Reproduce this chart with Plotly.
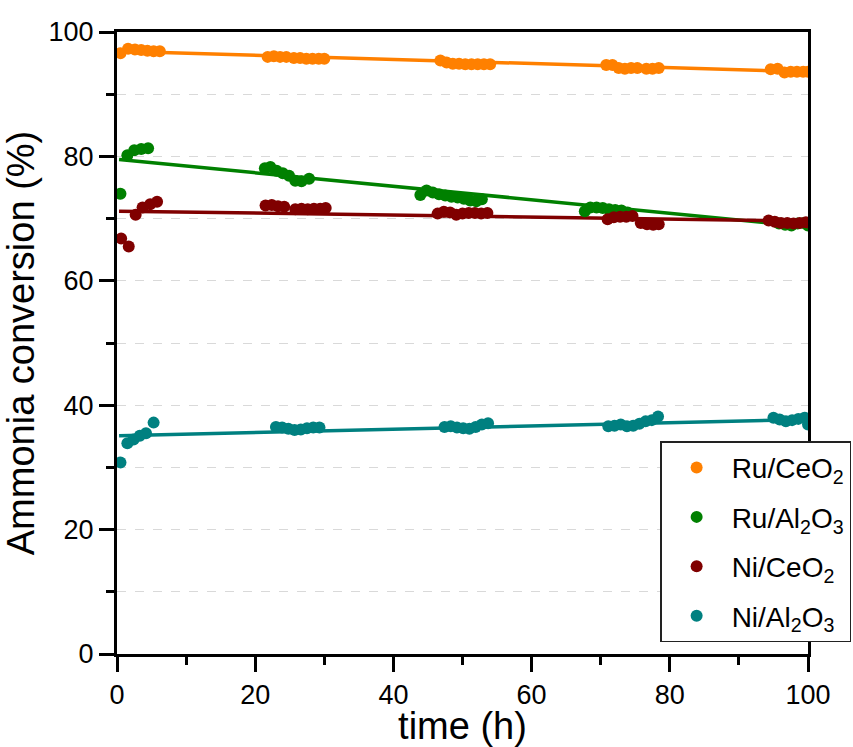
import plotly.graph_objects as go

# ---- data ----
series_names = ["Ru/CeO<sub>2</sub>", "Ru/Al<sub>2</sub>O<sub>3</sub>",
                "Ni/CeO<sub>2</sub>", "Ni/Al<sub>2</sub>O<sub>3</sub>"]
series_colors = ["#FF8000", "#008000", "#800000", "#008080"]

ru_ceo2_t = [0.5, 1.6, 2.6, 3.5, 4.4, 5.3, 6.2,
             21.8, 22.7, 23.6, 24.5, 25.6, 26.5, 27.4, 28.3, 29.2, 30.0,
             46.8, 47.7, 48.6, 49.5, 50.4, 51.3, 52.2, 53.1, 54.0,
             70.8, 71.7, 72.6, 73.5, 74.4, 75.3, 76.6, 77.5, 78.4,
             94.6, 95.6, 96.6, 97.5, 98.4, 99.3, 100.0]
ru_ceo2_y = [96.6, 97.3, 97.2, 97.1, 97.0, 96.9, 96.9,
             96.0, 96.1, 96.0, 96.0, 95.8, 95.8, 95.7, 95.7, 95.7, 95.7,
             95.4, 95.1, 94.9, 94.9, 94.8, 94.8, 94.8, 94.8, 94.8,
             94.7, 94.7, 94.2, 94.1, 94.2, 94.2, 94.1, 94.1, 94.2,
             94.0, 94.1, 93.5, 93.6, 93.6, 93.6, 93.6]

ru_al2o3_t = [0.5, 1.5, 2.5, 3.5, 4.5,
              21.4, 22.2, 23.1, 24.0, 24.9, 25.8, 26.7, 27.8,
              43.9, 44.8, 45.7, 46.6, 47.5, 48.4, 49.3, 50.2, 51.1, 52.0, 52.8,
              67.7, 68.5, 69.4, 70.3, 71.2, 72.1, 73.0, 73.9,
              95.8, 96.7, 97.6, 98.5, 99.4, 100.0]
ru_al2o3_y = [74.0, 80.2, 81.0, 81.2, 81.3,
              78.1, 78.3, 77.7, 77.3, 76.9, 76.1, 76.0, 76.4,
              73.8, 74.5, 74.2, 73.9, 73.7, 73.5, 73.4, 73.2, 72.9, 72.8, 73.1,
              71.2, 71.8, 71.8, 71.7, 71.5, 71.4, 71.3, 71.0,
              69.2, 69.0, 68.9, 69.2, 69.3, 68.9]

ni_ceo2_t = [0.6, 1.7, 2.7, 3.7, 4.8, 5.8,
             21.5, 22.4, 23.3, 24.2, 25.8, 26.7, 27.6, 28.5, 29.4, 30.2,
             46.4, 47.3, 48.2, 49.1, 50.0, 50.9, 51.8, 52.7, 53.6,
             71.0, 71.9, 72.8, 73.7, 74.6, 75.8, 76.7, 77.6, 78.4,
             94.3, 95.2, 96.1, 97.0, 97.9, 98.8, 99.7]
ni_ceo2_y = [66.8, 65.5, 70.6, 71.8, 72.3, 72.7,
             72.1, 72.2, 72.0, 71.9, 71.5, 71.6, 71.5, 71.6, 71.6, 71.7,
             70.8, 71.1, 71.0, 70.6, 70.8, 70.9, 70.9, 70.8, 70.9,
             69.9, 70.2, 70.3, 70.3, 70.4, 69.3, 69.1, 69.0, 69.1,
             69.7, 69.5, 69.3, 69.3, 69.2, 69.3, 69.4]

ni_al2o3_t = [0.5, 1.5, 2.4, 3.3, 4.2, 5.3,
              23.0, 23.9, 24.8, 25.7, 26.6, 27.5, 28.4, 29.3,
              47.4, 48.3, 49.2, 50.1, 51.0, 51.9, 52.8, 53.7,
              71.1, 72.0, 72.9, 73.8, 74.7, 75.6, 76.5, 77.4, 78.3,
              95.0, 95.9, 96.8, 97.7, 98.6, 99.5, 100.0]
ni_al2o3_y = [30.8, 33.9, 34.5, 35.1, 35.5, 37.2,
              36.5, 36.4, 36.2, 36.0, 36.1, 36.3, 36.4, 36.4,
              36.5, 36.6, 36.4, 36.3, 36.2, 36.5, 36.9, 37.1,
              36.6, 36.7, 36.9, 36.6, 36.7, 37.0, 37.4, 37.6, 38.2,
              38.0, 37.7, 37.4, 37.6, 37.8, 38.0, 36.9]

# linear-fit lines (start / end)
fit_t = [0.3, 100]
fit_ru_ceo2 = [96.9, 93.6]
fit_ru_al2o3 = [79.5, 68.7]
fit_ni_ceo2 = [71.2, 69.6]
fit_ni_al2o3 = [35.1, 37.7]

x_ticks = [0, 20, 40, 60, 80, 100]
y_ticks = [0, 20, 40, 60, 80, 100]

FONT = "Liberation Sans, Arial, sans-serif"

fig = go.Figure()

all_t = [ru_ceo2_t, ru_al2o3_t, ni_ceo2_t, ni_al2o3_t]
all_y = [ru_ceo2_y, ru_al2o3_y, ni_ceo2_y, ni_al2o3_y]
all_fit = [fit_ru_ceo2, fit_ru_al2o3, fit_ni_ceo2, fit_ni_al2o3]

for i in range(4):
    fig.add_trace(go.Scatter(
        x=fit_t, y=all_fit[i], mode="lines",
        line=dict(color=series_colors[i], width=3.5),
        showlegend=False, hoverinfo="skip"))

for i in range(4):
    fig.add_trace(go.Scatter(
        x=all_t[i], y=all_y[i], mode="markers",
        marker=dict(color=series_colors[i], size=12, symbol="circle",
                    line=dict(width=0)),
        name=series_names[i], legendgroup=f"g{i}"))

fig.update_layout(
    width=853, height=747,
    margin=dict(l=117, r=45, t=32, b=93, autoexpand=False),
    paper_bgcolor="white", plot_bgcolor="white",
    font=dict(family=FONT, color="black"),
    showlegend=True,
    legend=dict(
        x=0.786, xanchor="left", y=0.342, yanchor="top",
        bgcolor="white", bordercolor="#222222", borderwidth=1.5,
        font=dict(family=FONT, size=28, color="black"),
        tracegroupgap=10, itemsizing="constant", itemwidth=60,
    ),
)

fig.update_xaxes(
    range=[0, 100], tickvals=x_ticks,
    showline=True, linecolor="black", linewidth=3, mirror=True,
    ticks="outside", ticklen=15, tickwidth=2.5, tickcolor="black",
    tickfont=dict(family=FONT, size=27, color="black"),
    minor=dict(dtick=10, ticks="outside", ticklen=8, tickwidth=2.5,
               tickcolor="black", showgrid=False),
    showgrid=False, zeroline=False,
    title=dict(text="time (h)", font=dict(family=FONT, size=38, color="black"),
               standoff=4),
)

fig.update_yaxes(
    range=[0, 100], tickvals=y_ticks,
    showline=True, linecolor="black", linewidth=3, mirror=True,
    ticks="outside", ticklen=15, tickwidth=2.5, tickcolor="black",
    tickfont=dict(family=FONT, size=27, color="black"),
    minor=dict(dtick=10, ticks="outside", ticklen=8, tickwidth=2.5,
               tickcolor="black", showgrid=True, gridcolor="#d9d9d9",
               griddash="dash", gridwidth=1),
    showgrid=True, gridcolor="#d9d9d9", griddash="dash", gridwidth=1,
    zeroline=False,
    title=dict(text="Ammonia conversion (%)",
               font=dict(family=FONT, size=38, color="black"), standoff=10),
)

fig.write_html("out.html")
